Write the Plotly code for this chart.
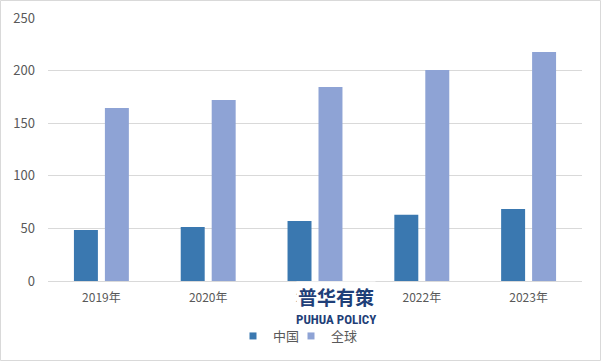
import plotly.graph_objects as go

categories = ["2019年", "2020年", "2021年", "2022年", "2023年"]
china = [48.5, 51.3, 57, 63, 68.5]
world = [164.5, 172, 184.5, 200.5, 217.7]
series_names = ["中国", "全球"]
y_ticks = [0, 50, 100, 150, 200, 250]

FONT = "Noto Sans CJK SC"
W, H = 601, 361
L, R, T, B = 48, 19, 18, 80
pw, ph = W - L - R, H - T - B
C_CHINA = "#3A78B0"
C_WORLD = "#8EA3D5"

fig = go.Figure()
fig.add_trace(go.Bar(x=categories, y=china, name=series_names[0], showlegend=False,
                     marker=dict(color=C_CHINA, line=dict(width=0))))
fig.add_trace(go.Bar(x=categories, y=world, name=series_names[1], showlegend=False,
                     marker=dict(color=C_WORLD, line=dict(width=0))))
# legend entries with small square symbols, one legend box each
for name, col, lg in zip(series_names, [C_CHINA, C_WORLD], ["legend", "legend2"]):
    fig.add_trace(go.Scatter(x=[None], y=[None], mode="markers", name=name, legend=lg,
                             marker=dict(symbol="square", size=7, color=col)))

legend_common = dict(orientation="h", xanchor="left", y=(T + ph - 336) / ph, yanchor="middle",
                     font=dict(family=FONT, size=13, color="#595959"),
                     itemwidth=30, bgcolor="rgba(0,0,0,0)")

fig.update_layout(
    width=W, height=H,
    margin=dict(l=L, r=R, t=T, b=B, autoexpand=False),
    paper_bgcolor="white", plot_bgcolor="white",
    barmode="group", bargap=0.42, bargroupgap=0.226,
    font=dict(family=FONT, size=12, color="#595959"),
    showlegend=True,
    legend=dict(x=(233 - L) / pw, **legend_common),
    legend2=dict(x=(291 - L) / pw, **legend_common),
    xaxis=dict(showgrid=False, showline=True, linecolor="#D9D9D9", linewidth=1,
               ticks="", ticklabelstandoff=6, tickfont=dict(size=12, color="#595959")),
    yaxis=dict(range=[0, 250], tickvals=y_ticks, showgrid=True, gridcolor="#D9D9D9",
               gridwidth=1, zeroline=False, showline=False, ticks="",
               ticklabelstandoff=12, tickfont=dict(size=13, color="#595959")),
)

# watermark
fig.add_annotation(text="<b>普华有策</b>", xref="paper", yref="paper",
                   x=(336 - L) / pw, y=(T + ph - 296) / ph, xanchor="center", yanchor="middle",
                   showarrow=False, bgcolor="white",
                   font=dict(family=FONT, size=19, color="#1F3F78"))
fig.add_annotation(text="<b>PUHUA POLICY</b>", xref="paper", yref="paper",
                   x=(336 - L) / pw, y=(T + ph - 319) / ph, xanchor="center", yanchor="middle",
                   showarrow=False,
                   font=dict(family="Roboto Condensed, Roboto, Noto Sans", size=13, color="#1F3F78"))

# outer frame
fig.add_shape(type="rect", xref="paper", yref="paper",
              x0=(0.5 - L) / pw, x1=(W - 0.5 - L) / pw,
              y0=-(B - 0.5) / ph, y1=1 + (T - 0.5) / ph,
              line=dict(color="#D9D9D9", width=1), layer="below")

fig.write_html("out.html", config={"displayModeBar": False},
               post_script="document.body.style.margin='0';document.body.style.overflow='hidden';")
